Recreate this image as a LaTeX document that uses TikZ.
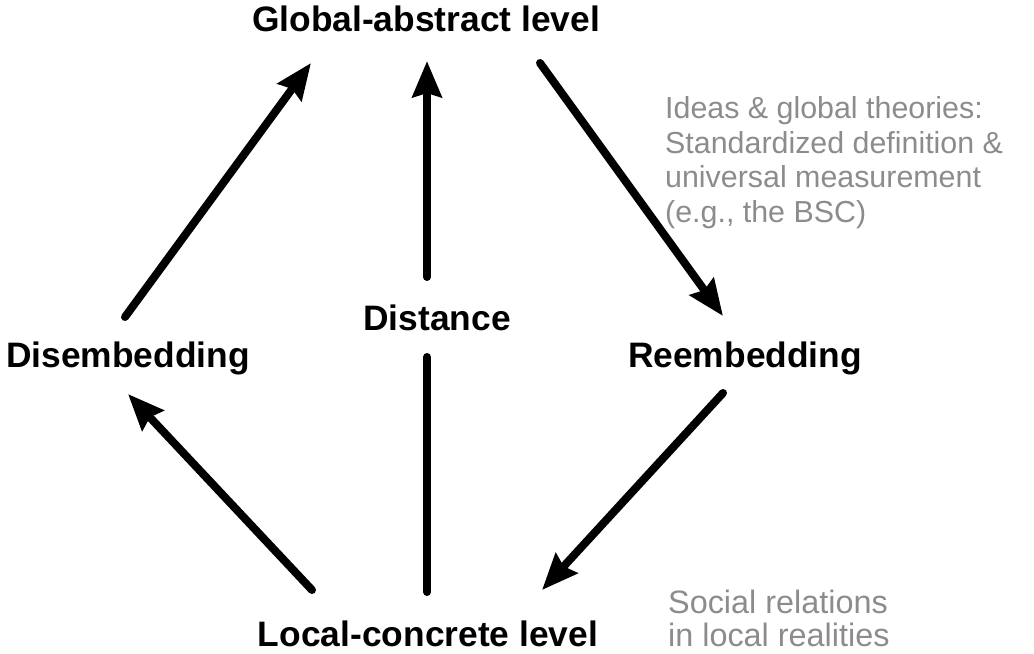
\documentclass[tikz,border=0pt]{standalone}
\usepackage{fontspec}
\setmainfont{Liberation Sans}
\usetikzlibrary{arrows.meta}
\tikzset{
  lvl/.style  ={font=\fontsize{35.5}{40}\selectfont\bfseries,inner sep=0pt,anchor=base},
  note/.style ={font=\fontsize{30.5}{34.5}\selectfont,text=black!45,inner sep=0pt,
                align=left,anchor=base west},
  flow/.style ={-{Stealth[length=36bp,width=29bp,inset=4bp]},line width=8bp,
                line cap=round},
  link/.style ={line width=8bp,line cap=round},
}
\begin{document}
\begin{tikzpicture}[x=1bp, y=-1bp]
\useasboundingbox (0,0) rectangle (1034,654);

\node[lvl] (glob)  at (426,32)  {Global-abstract level};
\node[lvl] (dis)   at (128,367) {Disembedding};
\node[lvl] (dist)  at (437,330) {Distance};
\node[lvl] (reemb) at (745,367) {Reembedding};
\node[lvl] (loc)   at (428,646) {Local-concrete level};

%% base west of a node with several lines sits on its last line
\node[note] (theo) at (665,222) {Ideas \& global theories:\\Standardized definition \&\\
  universal measurement\\(e.g., the BSC)};
\node[note,font=\fontsize{32.5}{33}\selectfont] (soc) at (668,646)
  {Social relations\\in local realities};

%% end points of the arrows around the labels
\coordinate (dis-up)    at (125,317);
\coordinate (glob-l)    at (311,63);
\coordinate (dist-up)   at (427,277);
\coordinate (glob-c)    at (427,61);
\coordinate (glob-r)    at (540,63);
\coordinate (reemb-up)  at (723,316);
\coordinate (reemb-dn)  at (723,393);
\coordinate (loc-r)     at (542,590);
\coordinate (loc-l)     at (312,590);
\coordinate (dis-dn)    at (128,394);
\coordinate (dist-dn)   at (427,357);
\coordinate (loc-c)     at (427,592);

\draw[flow] (dis-up) -- (glob-l);
\draw[flow] (dist-up) -- (glob-c);
\draw[flow] (glob-r) -- (reemb-up);
\draw[flow] (reemb-dn) -- (loc-r);
\draw[flow] (loc-l) -- (dis-dn);
\draw[link] (loc-c) -- (dist-dn);

\end{tikzpicture}
\end{document}
